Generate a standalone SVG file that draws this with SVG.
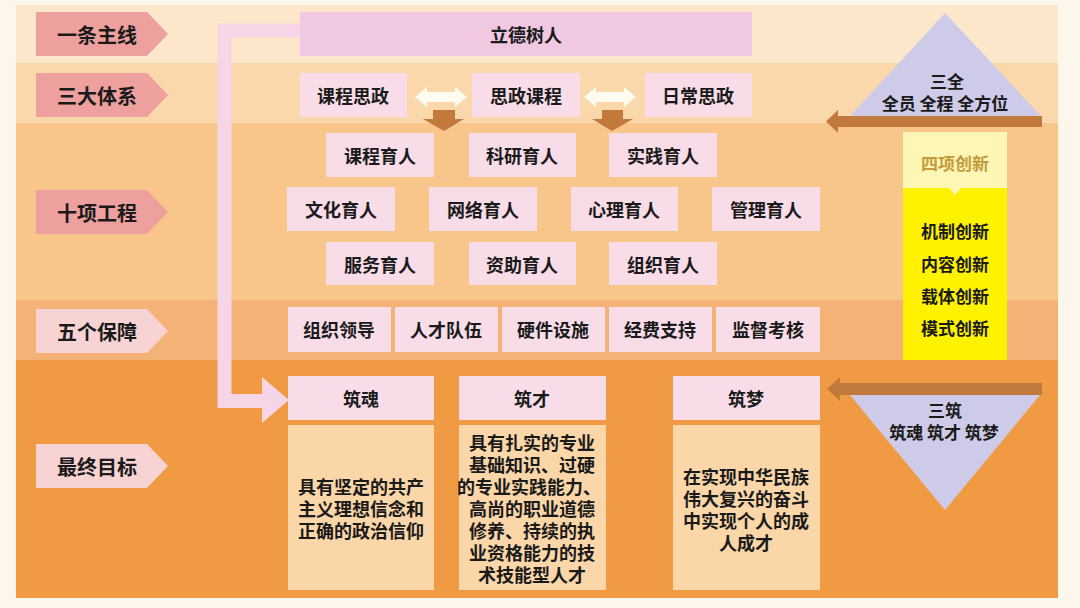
<svg xmlns="http://www.w3.org/2000/svg" width="1080" height="608" viewBox="0 0 1080 608">
<style>
text{font-family:"Noto Sans CJK SC","Noto Sans",sans-serif;font-weight:bold;fill:#1a1a1a;text-anchor:middle;dominant-baseline:central}
.lab{font-size:20px}
.bx{font-size:18px}
.sm{font-size:17px}
.pk{fill:#f8dde8}
.lbl{fill:#eda09d}
.lbl2{fill:#f7d3d3}
.body{fill:#fbd6a8}
.brown{fill:#c27a3c}
.tri{fill:#cdcbe8}
</style>
<rect x="0" y="0" width="1080" height="608" fill="#fdf6ec"/>
<g id="bands">
<rect x="16" y="5" width="1042" height="58" fill="#fde7cb"/>
<rect x="16" y="63" width="1042" height="60" fill="#fad8ac"/>
<rect x="16" y="123" width="1042" height="177" fill="#f8c68b"/>
<rect x="16" y="300" width="1042" height="60" fill="#f4b277"/>
<rect x="16" y="360" width="1042" height="238" fill="#f09b43"/>
</g>
<g id="labels">
<g id="lab1"><polygon class="lbl" points="36,12 147,12 168,34 147,56 36,56"/><text class="lab" x="97" y="34">一条主线</text></g>
<g id="lab2"><polygon class="lbl" points="36,73 147,73 168,95 147,117 36,117"/><text class="lab" x="97" y="95">三大体系</text></g>
<g id="lab3"><polygon class="lbl" points="36,190 147,190 168,212 147,234 36,234"/><text class="lab" x="97" y="212">十项工程</text></g>
<g id="lab4"><polygon class="lbl2" points="36,309 147,309 168,331 147,353 36,353"/><text class="lab" x="97" y="331">五个保障</text></g>
<g id="lab5"><polygon class="lbl2" points="36,444 147,444 168,466 147,488 36,488"/><text class="lab" x="97" y="466">最终目标</text></g>
</g>
<g id="connectors">
<path d="M300 30.5 H224.5 V401 H264" fill="none" stroke="#f6d6e6" stroke-width="14"/>
<polygon points="262,377 289,400 262,423" fill="#f6d6e6"/>
<polygon points="415,97 427,87 427,92 455,92 455,87 467,97 455,107 455,102 427,102 427,107" fill="#fffbef"/>
<polygon points="584,97 596,87 596,92 624,92 624,87 636,97 624,107 624,102 596,102 596,107" fill="#fffbef"/>
<polygon class="brown" points="433,110 455,110 455,119 464,119 444,131 423,119 433,119"/>
<polygon class="brown" points="602,110 623,110 623,119 633,119 612,131 592,119 602,119"/>
<polygon class="brown" points="1042,116 838,116 838,110 826,121.5 838,133 838,127 1042,127"/>
<polygon class="brown" points="1042,383 840,383 840,377 827,389 840,401 840,395 1042,395"/>
</g>
<g id="n-main"><rect x="300" y="12" width="452" height="44" fill="#f0c8e2"/><text class="bx" x="526" y="34">立德树人</text></g>
<g id="n-sys1"><rect class="pk" x="300" y="73" width="107" height="44"/><text class="bx" x="353" y="95">课程思政</text></g>
<g id="n-sys2"><rect class="pk" x="472" y="73" width="108" height="44"/><text class="bx" x="526" y="95">思政课程</text></g>
<g id="n-sys3"><rect class="pk" x="645" y="73" width="107" height="44"/><text class="bx" x="698" y="95">日常思政</text></g>
<g id="n-p1"><rect class="pk" x="326" y="133" width="108" height="44"/><text class="bx" x="380" y="155">课程育人</text></g>
<g id="n-p2"><rect class="pk" x="469" y="133" width="107" height="44"/><text class="bx" x="522" y="155">科研育人</text></g>
<g id="n-p3"><rect class="pk" x="609" y="133" width="108" height="44"/><text class="bx" x="663" y="155">实践育人</text></g>
<g id="n-p4"><rect class="pk" x="287" y="187" width="108" height="44"/><text class="bx" x="341" y="209">文化育人</text></g>
<g id="n-p5"><rect class="pk" x="429" y="187" width="108" height="44"/><text class="bx" x="483" y="209">网络育人</text></g>
<g id="n-p6"><rect class="pk" x="571" y="187" width="107" height="44"/><text class="bx" x="624" y="209">心理育人</text></g>
<g id="n-p7"><rect class="pk" x="712" y="187" width="108" height="44"/><text class="bx" x="766" y="209">管理育人</text></g>
<g id="n-p8"><rect class="pk" x="326" y="242" width="108" height="43"/><text class="bx" x="380" y="264">服务育人</text></g>
<g id="n-p9"><rect class="pk" x="469" y="242" width="107" height="43"/><text class="bx" x="522" y="264">资助育人</text></g>
<g id="n-p10"><rect class="pk" x="609" y="242" width="108" height="43"/><text class="bx" x="663" y="264">组织育人</text></g>
<g id="n-g1"><rect class="pk" x="288" y="307" width="103" height="45"/><text class="bx" x="339" y="329">组织领导</text></g>
<g id="n-g2"><rect class="pk" x="395" y="307" width="103" height="45"/><text class="bx" x="446" y="329">人才队伍</text></g>
<g id="n-g3"><rect class="pk" x="502" y="307" width="103" height="45"/><text class="bx" x="553" y="329">硬件设施</text></g>
<g id="n-g4"><rect class="pk" x="609" y="307" width="103" height="45"/><text class="bx" x="660" y="329">经费支持</text></g>
<g id="n-g5"><rect class="pk" x="716" y="307" width="104" height="45"/><text class="bx" x="768" y="329">监督考核</text></g>
<g id="n-soul">
<rect class="pk" x="288" y="376" width="146" height="44"/><text class="bx" x="361" y="398">筑魂</text>
<rect class="body" x="288" y="425" width="146" height="165"/>
<text class="bx"><tspan x="361" y="486">具有坚定的共产</tspan><tspan x="361" y="508">主义理想信念和</tspan><tspan x="361" y="530">正确的政治信仰</tspan></text>
</g>
<g id="n-talent">
<rect class="pk" x="459" y="376" width="147" height="44"/><text class="bx" x="532" y="398">筑才</text>
<rect class="body" x="459" y="425" width="147" height="165"/>
<text class="bx"><tspan x="532" y="442">具有扎实的专业</tspan><tspan x="532" y="464">基础知识、过硬</tspan><tspan x="529" y="486">的专业实践能力、</tspan><tspan x="532" y="508">高尚的职业道德</tspan><tspan x="532" y="530">修养、持续的执</tspan><tspan x="532" y="552">业资格能力的技</tspan><tspan x="532" y="574">术技能型人才</tspan></text>
</g>
<g id="n-dream">
<rect class="pk" x="673" y="376" width="147" height="44"/><text class="bx" x="746" y="398">筑梦</text>
<rect class="body" x="673" y="425" width="147" height="165"/>
<text class="bx"><tspan x="746" y="476">在实现中华民族</tspan><tspan x="746" y="498">伟大复兴的奋斗</tspan><tspan x="746" y="520">中实现个人的成</tspan><tspan x="746" y="542">人成才</tspan></text>
</g>
<g id="n-sanquan">
<polygon class="tri" points="945,13 1041,116 850,116"/>
<text class="sm"><tspan x="947" y="80">三全</tspan><tspan x="945" y="102">全员 全程 全方位</tspan></text>
</g>
<g id="n-sanzhu">
<polygon class="tri" points="850,395 1040,395 945,510"/>
<text class="sm"><tspan x="945" y="409">三筑</tspan><tspan x="944" y="431">筑魂 筑才 筑梦</tspan></text>
</g>
<g id="n-innov">
<rect x="903" y="188" width="104" height="172" fill="#fff200"/>
<polygon points="903,132 1007,132 1007,188 961,188 955,195 949,188 903,188" fill="#fdf6b4"/>
<text class="sm" x="955" y="162" style="fill:#c49a3c">四项创新</text>
<text class="sm"><tspan x="955" y="230">机制创新</tspan><tspan x="955" y="263">内容创新</tspan><tspan x="955" y="295">载体创新</tspan><tspan x="955" y="327">模式创新</tspan></text>
</g>
</svg>
